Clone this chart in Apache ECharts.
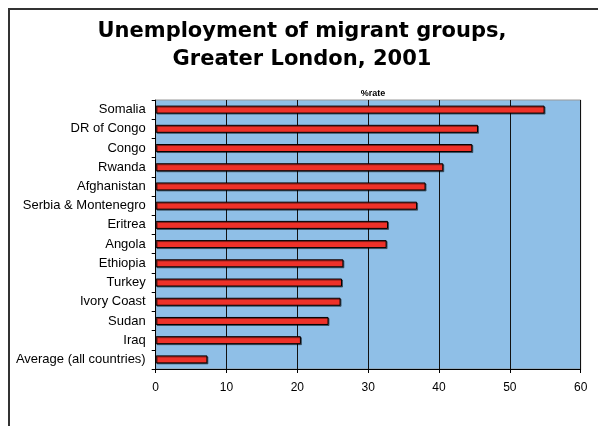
<!DOCTYPE html>
<html><head><meta charset="utf-8">
<script src="https://cdn.jsdelivr.net/npm/echarts@6/dist/echarts.min.js"></script>
<style>html,body{margin:0;padding:0;background:#fff}#c{width:598px;height:426px}</style>
</head><body><div id="c"></div>
<script>
const categories = ["Somalia","DR of Congo","Congo","Rwanda","Afghanistan","Serbia & Montenegro","Eritrea","Angola","Ethiopia","Turkey","Ivory Coast","Sudan","Iraq","Average (all countries)"];
const rates = [54.9,45.5,44.7,40.6,38.1,36.9,32.8,32.6,26.5,26.3,26.1,24.4,20.5,7.3];
const xTicks = [0,10,20,30,40,50,60];

const chart = echarts.init(document.getElementById('c'), null, {renderer:'canvas'});
const F = '"Liberation Sans", Arial, sans-serif';
chart.setOption({
  animation:false,
  backgroundColor:'#ffffff',
  title:[{
    text:'Unemployment of migrant groups,\nGreater London, 2001',
    left:297, top:13, textAlign:'center',
    textStyle:{fontFamily:'"DejaVu Sans", sans-serif', fontSize:21, fontWeight:'bold', color:'#000', lineHeight:28}
  },{
    text:'%rate', left:368, top:84, textAlign:'center',
    textStyle:{fontFamily:F, fontSize:9, fontWeight:'bold', color:'#000'}
  }],
  graphic:[{type:'rect', shape:{x:9,y:9,width:600,height:430}, style:{fill:'none', stroke:'#333', lineWidth:2}, z:-1}],
  grid:{left:155.7, right:17.3, top:100, height:269, backgroundColor:'#8fbfe7', show:true, borderColor:'#999', borderWidth:1},
  xAxis:{type:'value', min:0, max:60, interval:10,
    axisLine:{show:true, lineStyle:{color:'#000', width:1}},
    axisTick:{show:true, length:4, lineStyle:{color:'#000'}},
    axisLabel:{fontFamily:F, fontSize:12, color:'#000', margin:13, formatter:v=>xTicks.includes(v)?String(v):''},
    splitLine:{show:true, lineStyle:{color:'#111', width:1}}
  },
  yAxis:{type:'category', data:categories, inverse:true,
    axisLine:{show:true, lineStyle:{color:'#000'}},
    axisTick:{show:true, length:4, lineStyle:{color:'#000'}},
    axisLabel:{fontFamily:F, fontSize:13, color:'#000', margin:10}
  },
  series:[{type:'bar', data:rates, barWidth:8,
    itemStyle:{color:'#ee3129', borderColor:'#000', borderWidth:1, shadowColor:'rgba(0,0,0,0.45)', shadowOffsetX:1, shadowOffsetY:1, shadowBlur:0}
  }]
});
</script></body></html>
